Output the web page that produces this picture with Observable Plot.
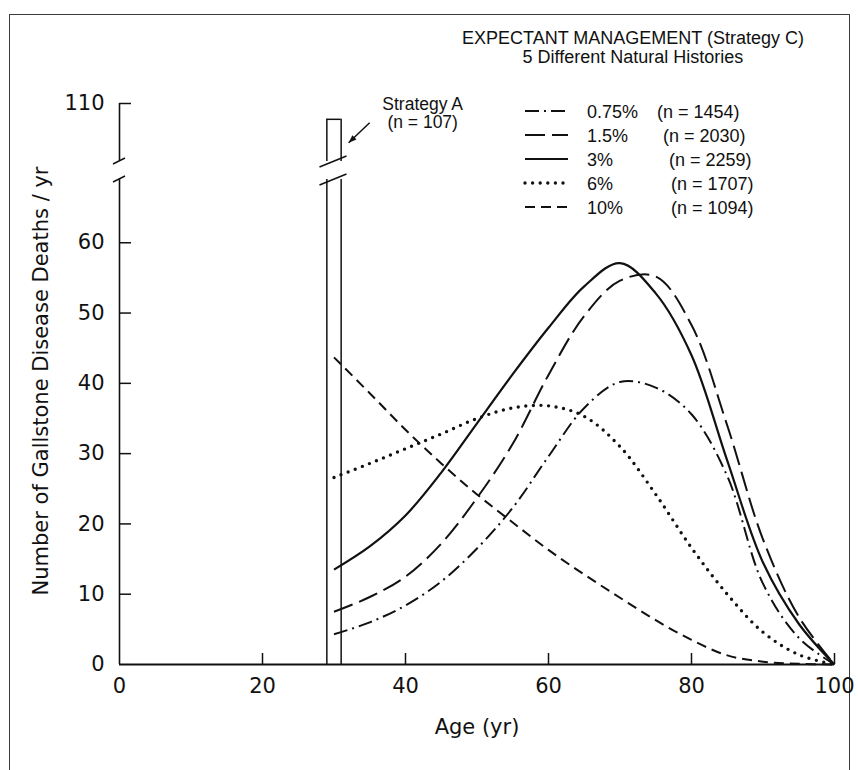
<!DOCTYPE html>
<html>
<head>
<meta charset="utf-8">
<script src="https://cdn.jsdelivr.net/npm/d3@7"></script>
<script src="https://cdn.jsdelivr.net/npm/@observablehq/plot@0.6"></script>
<style>
  html, body { margin: 0; padding: 0; background: #fff; }
  #wrap { position: relative; width: 858px; height: 770px; overflow: hidden; background: #fff; }
  #frame { position: absolute; left: 9px; top: 14px; width: 841px; height: 820px; border: 1.5px solid #3a3a3a; box-sizing: border-box; }
  #chart { position: absolute; left: 0; top: 0; }
  #title { position: absolute; left: 433px; top: 29px; width: 400px; text-align: center;
           font-family: "Liberation Sans", Arial, sans-serif; font-size: 18px; line-height: 19px; color: #111; }
  #legend { position: absolute; left: 0; top: 0; }
</style>
</head>
<body>
<div id="wrap">
  <div id="frame"></div>
  <div id="chart"></div>
  <div id="title">EXPECTANT MANAGEMENT (Strategy C)<br>5 Different Natural Histories</div>
  <svg id="legend" width="858" height="260"></svg>
</div>
<script>
// ---------- data ----------
const ages = [30, 35, 40, 45, 50, 55, 60, 65, 70, 75, 80, 85, 90, 95, 100];
const deaths075 = [4.3, 6.0, 8.4, 11.8, 16.5, 22.3, 29.6, 36.5, 40.2, 39.4, 35.6, 26.8, 11.5, 3.8, 0];
const deaths15  = [7.5, 9.6, 12.5, 17.2, 23.7, 31.4, 41.2, 49.6, 54.6, 55.2, 48.3, 34.0, 17.8, 6.8, 0];
const deaths3   = [13.5, 16.8, 21.2, 27.3, 34.3, 41.3, 47.9, 53.8, 57.1, 52.8, 44.0, 29.0, 14.5, 5.8, 0];
const deaths6   = [26.6, 28.6, 30.7, 32.8, 35.0, 36.5, 36.8, 35.3, 31.0, 24.2, 16.6, 10.0, 4.6, 1.4, 0];
const deaths10  = [43.7, 38.6, 33.4, 28.6, 24.2, 20.2, 16.3, 12.8, 9.5, 6.3, 3.5, 1.3, 0.4, 0.1, 0];
const seriesNames = ["0.75%", "1.5%", "3%", "6%", "10%"];
const seriesN = [1454, 2030, 2259, 1707, 1094];
const strategyAAge = 30;
const strategyADeaths = 107;
const strategyAN = 107;
const xTicks = [0, 20, 40, 60, 80, 100];
const yTicks = [0, 10, 20, 30, 40, 50, 60, 110];
const xLabel = "Age (yr)";
const yLabel = "Number of Gallstone Disease Deaths / yr";

// ---------- styles ----------
const ink = "#111";
const seriesStyles = [
  {dash: "14,5,2,5", width: 2, cap: "butt"},
  {dash: "20,7", width: 2, cap: "butt"},
  {dash: null, width: 2.2, cap: "butt"},
  {dash: "0,7.6", width: 3.4, cap: "round"},
  {dash: "10,6", width: 2, cap: "butt"}
];
const breakLow = 69, breakHigh = 99, yTop = 110;

const allSeries = [deaths075, deaths15, deaths3, deaths6, deaths10];
const table = [];
allSeries.forEach((vals, s) => vals.forEach((v, i) => table.push({series: seriesNames[s], age: ages[i], deaths: v})));

// decorations: axis/bar break slashes and annotation arrow
function decorations(index, scales) {
  const x = scales.x, y = scales.y;
  const g = d3.create("svg:g").attr("stroke", ink).attr("fill", "none").attr("stroke-width", 1.5);
  for (const v of [breakLow, breakHigh]) {
    const py = y(v);
    g.append("line").attr("x1", x(0) - 6).attr("y1", py + 3).attr("x2", x(0) + 6).attr("y2", py - 3);
    const cx = x(strategyAAge);
    g.append("line").attr("x1", cx - 14).attr("y1", py + 6).attr("x2", cx + 13).attr("y2", py - 5);
  }
  const bx = x(strategyAAge + 1), by = y(strategyADeaths);
  const x0 = bx + 29, y0 = by + 4, x1 = bx + 8, y1 = by + 24;
  g.append("line").attr("x1", x0).attr("y1", y0).attr("x2", x1).attr("y2", y1);
  const ang = Math.atan2(y1 - y0, x1 - x0), L = 8, W = 3;
  const ux = Math.cos(ang), uy = Math.sin(ang);
  g.append("path")
    .attr("fill", ink).attr("stroke", "none")
    .attr("d", `M${x1},${y1}L${x1 - L * ux - W * uy},${y1 - L * uy + W * ux}L${x1 - L * ux + W * uy},${y1 - L * uy - W * ux}Z`);
  return g.node();
}

const lineMarks = seriesNames.map((name, s) =>
  Plot.line(table.filter(d => d.series === name), {
    x: "age", y: "deaths", curve: "catmull-rom",
    stroke: ink, strokeWidth: seriesStyles[s].width,
    strokeDasharray: seriesStyles[s].dash || undefined,
    strokeLinecap: seriesStyles[s].cap
  })
);

const chart = Plot.plot({
  width: 858, height: 770,
  marginLeft: 119, marginRight: 24, marginTop: 103, marginBottom: 106,
  x: {type: "linear", domain: [0, 100], range: [119, 834]},
  y: {type: "linear", domain: [0, breakLow, breakHigh, yTop], range: [664, 179, 161, 103]},
  style: {fontFamily: "'DejaVu Sans', sans-serif", fontSize: "21px", color: ink, background: "transparent", overflow: "visible"},
  marks: [
    // axis lines (broken y axis)
    Plot.ruleX([0], {y1: 0, y2: breakLow, stroke: ink, strokeWidth: 1.6}),
    Plot.ruleX([0], {y1: breakHigh, y2: yTop, stroke: ink, strokeWidth: 1.6}),
    Plot.ruleY([0], {x1: 0, x2: 100, stroke: ink, strokeWidth: 1.8}),
    // inward ticks
    Plot.ruleY(yTicks.filter(d => d > 0), {y: d => d, x1: 0, x2: 0, insetRight: -12, stroke: ink, strokeWidth: 1.5}),
    Plot.ruleX(xTicks.filter(d => d > 0), {x: d => d, y1: 0, y2: 0, insetTop: -11, stroke: ink, strokeWidth: 1.5}),
    Plot.axisX({ticks: xTicks, tickSize: 0, tickPadding: 14, label: null, tickFormat: d => String(d)}),
    Plot.axisY({ticks: yTicks, tickSize: 0, tickPadding: 15, label: null, tickFormat: d => String(d)}),
    // Strategy A bar (broken)
    Plot.ruleX([strategyAAge - 1, strategyAAge + 1], {y1: 0, y2: breakLow, stroke: ink, strokeWidth: 1.5}),
    Plot.ruleX([strategyAAge - 1, strategyAAge + 1], {y1: breakHigh, y2: strategyADeaths, stroke: ink, strokeWidth: 1.5}),
    Plot.ruleY([strategyADeaths], {x1: strategyAAge - 1, x2: strategyAAge + 1, stroke: ink, strokeWidth: 1.5}),
    // curves
    ...lineMarks,
    decorations,
    // annotation
    Plot.text([`Strategy A\n(n = ${strategyAN})`], {
      x: 42.4, y: 108.2, text: d => d, fontFamily: "'Liberation Sans', Arial, sans-serif",
      fontSize: 17.5, lineHeight: 1.08, fill: ink
    }),
    // axis titles
    Plot.text([xLabel], {frameAnchor: "bottom", text: d => d, dy: 69, fill: ink, fontSize: 21}),
    Plot.text([yLabel], {frameAnchor: "left", textAnchor: "middle", text: d => d, rotate: -90, dx: -78, dy: -3, fill: ink, fontSize: 21})
  ]
});
document.getElementById("chart").appendChild(chart);

// ---------- legend ----------
const leg = d3.select("#legend");
const rowTop = 111, rowStep = 24;
const nLeft = [657, 663, 669, 671, 671];
seriesNames.forEach((name, i) => {
  const cy = rowTop + i * rowStep;
  const st = seriesStyles[i];
  leg.append("line").attr("x1", 525).attr("x2", 568).attr("y1", cy).attr("y2", cy)
    .attr("stroke", ink).attr("stroke-width", st.width)
    .attr("stroke-dasharray", st.dash).attr("stroke-linecap", st.cap);
  leg.append("text").attr("x", 587).attr("y", cy + 6.5)
    .attr("font-family", "'Liberation Sans', Arial, sans-serif").attr("font-size", 18).attr("fill", ink)
    .text(name);
  leg.append("text").attr("x", nLeft[i]).attr("y", cy + 6.5)
    .attr("font-family", "'Liberation Sans', Arial, sans-serif").attr("font-size", 18).attr("fill", ink)
    .text(`(n = ${seriesN[i]})`);
});
</script>
</body>
</html>
